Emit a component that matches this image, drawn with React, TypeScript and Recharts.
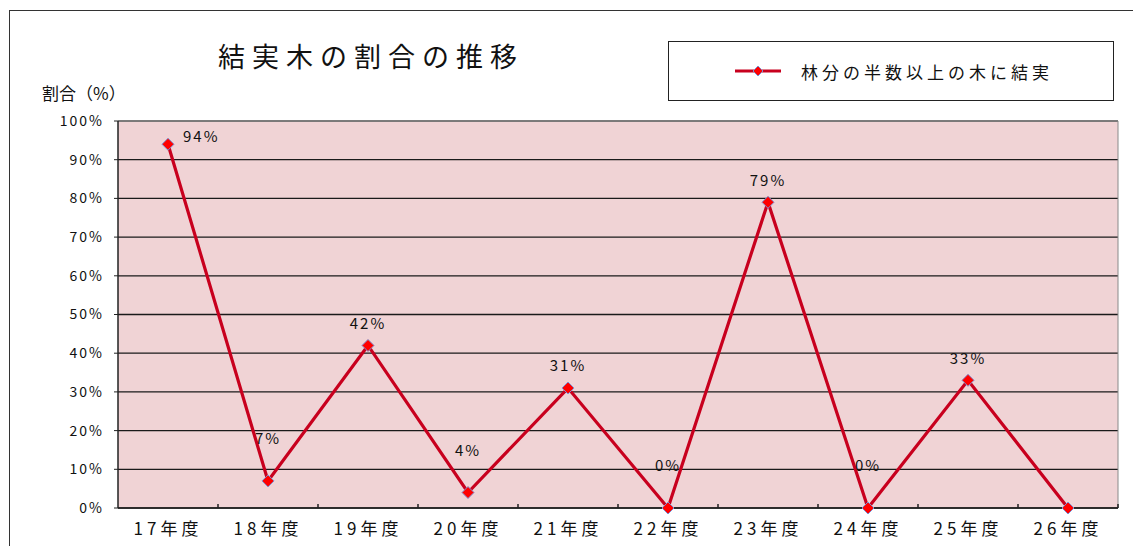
import React from "react";
import {
  LineChart,
  Line,
  XAxis,
  YAxis,
  CartesianGrid,
  ReferenceLine,
  Legend,
} from "recharts";

const years = [
  "17年度",
  "18年度",
  "19年度",
  "20年度",
  "21年度",
  "22年度",
  "23年度",
  "24年度",
  "25年度",
  "26年度",
];
const fruitingRates = [94, 7, 42, 4, 31, 0, 79, 0, 33, 0];
const yTicks = [0, 10, 20, 30, 40, 50, 60, 70, 80, 90, 100];
const seriesName = "林分の半数以上の木に結実";
const chartTitle = "結実木の割合の推移";
const yLabel = "割合（%）";

const FONT = '"Noto Sans CJK JP", "Noto Sans", sans-serif';
const LINE_RED = "#C8001E";

const data = years.map((year, i) => ({ year, rate: fruitingRates[i] }));

const Diamond = ({ cx, cy, size = 6 }: any) => {
  if (cx == null || cy == null) return null;
  const s = size;
  return (
    <polygon
      points={`${cx},${cy - s} ${cx + s},${cy} ${cx},${cy + s} ${cx - s},${cy}`}
      fill="#FF0000"
      stroke="#8090D0"
      strokeWidth={1}
    />
  );
};

const XTick = ({ x, y, payload }: any) => (
  <g>
    <line x1={x + 50} y1={y - 4} x2={x + 50} y2={y} stroke="#222" strokeWidth={1.5} />
    <text
      x={x}
      y={y + 27}
      textAnchor="middle"
      fill="#111"
      style={{ fontFamily: FONT, fontSize: 17, letterSpacing: 4 }}
    >
      {payload.value}
    </text>
  </g>
);

const renderLabel = (props: any) => {
  const { x, y, value, index } = props;
  // last year has no label in the original
  if (index === years.length - 1) return null;
  let tx = x;
  let ty = y - (value < 10 ? 42 : 22);
  let anchor: "middle" | "start" = "middle";
  if (index === 0) {
    tx = x + 15;
    ty = y - 7;
    anchor = "start";
  }
  return (
    <text
      x={tx}
      y={ty}
      dy="0.35em"
      textAnchor={anchor}
      fill="#111"
      style={{ fontFamily: FONT, fontSize: 15, letterSpacing: 2 }}
    >
      {value}%
    </text>
  );
};

const renderLegend = () => (
  <div
    style={{
      boxSizing: "border-box",
      width: 446,
      height: 60,
      border: "1.5px solid #222",
      background: "#fff",
      display: "flex",
      alignItems: "center",
      paddingLeft: 66,
      fontFamily: FONT,
    }}
  >
    <svg width={46} height={14} style={{ marginRight: 20 }}>
      <line x1={0} y1={7} x2={46} y2={7} stroke={LINE_RED} strokeWidth={3} />
      <Diamond cx={23} cy={7} size={5} />
    </svg>
    <span style={{ fontSize: 17, letterSpacing: 4, color: "#111" }}>{seriesName}</span>
  </div>
);

export default function App() {
  return (
    <div
      style={{
        position: "absolute",
        left: 0,
        top: 0,
        width: 1133,
        height: 546,
        overflow: "hidden",
        background: "#fff",
        fontFamily: FONT,
      }}
    >
      <div
        style={{
          position: "absolute",
          left: 9,
          top: 10,
          width: 1124,
          height: 536,
          borderLeft: "1.5px solid #333",
          borderTop: "1.5px solid #333",
        }}
      />
      <div
        style={{
          position: "absolute",
          left: 218,
          top: 42,
          fontSize: 27,
          lineHeight: 1,
          letterSpacing: 7,
          whiteSpace: "nowrap",
          color: "#111",
        }}
      >
        {chartTitle}
      </div>
      <div
        style={{
          position: "absolute",
          left: 42,
          top: 84,
          fontSize: 17,
          lineHeight: 1,
          whiteSpace: "nowrap",
          color: "#111",
        }}
      >
        {yLabel}
      </div>
      <div style={{ position: "absolute", left: 0, top: 0 }}>
        <LineChart
          width={1133}
          height={546}
          data={data}
          margin={{ top: 121, right: 15, bottom: 8, left: 60 }}
        >
          <CartesianGrid
            vertical={false}
            stroke="#1a1a1a"
            strokeWidth={1.3}
            fill="#F0D3D5"
            fillOpacity={1}
          />
          <CartesianGrid
            horizontal={false}
            stroke="#8a8a8a"
            verticalCoordinatesGenerator={({ offset }: any) => [offset.left + offset.width]}
          />
          <ReferenceLine y={100} stroke="#8a8a8a" strokeWidth={1.3} />
          <XAxis
            dataKey="year"
            padding={{ left: 50, right: 50 }}
            height={30}
            axisLine={{ stroke: "#222", strokeWidth: 1.5 }}
            tickLine={false}
            tickSize={0}
            tickMargin={0}
            interval={0}
            tick={<XTick />}
          />
          <YAxis
            domain={[0, 100]}
            ticks={yTicks}
            width={58}
            interval={0}
            tickFormatter={(v: number) => `${v}%`}
            axisLine={{ stroke: "#222", strokeWidth: 1.5 }}
            tickLine={{ stroke: "#222" }}
            tickSize={4}
            tickMargin={10}
            tick={{ fill: "#111", fontSize: 14, fontFamily: FONT, letterSpacing: 2 }}
          />
          <Legend
            layout="horizontal"
            verticalAlign="middle"
            align="center"
            content={renderLegend}
            wrapperStyle={{ position: "absolute", left: 668, top: 41, width: 446, height: 60 }}
          />
          <Line
            type="linear"
            dataKey="rate"
            name={seriesName}
            stroke={LINE_RED}
            strokeWidth={3.2}
            dot={<Diamond size={6} />}
            activeDot={false}
            label={renderLabel}
            isAnimationActive={false}
          />
        </LineChart>
      </div>
    </div>
  );
}
